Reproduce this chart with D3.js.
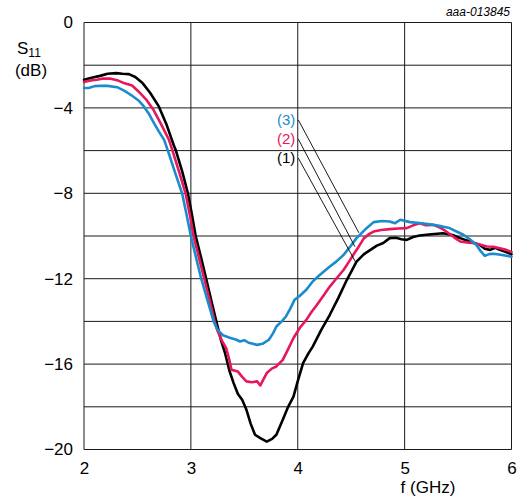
<!DOCTYPE html>
<html>
<head>
<meta charset="utf-8">
<script src="https://cdn.jsdelivr.net/npm/d3@7"></script>
<style>
  html, body { margin: 0; padding: 0; background: #fff; }
  svg { display: block; font-family: "Liberation Sans", Arial, sans-serif; }
</style>
</head>
<body>
<svg id="chart" width="519" height="502"></svg>
<script>
// ---- data ----
const xTicks = [2, 3, 4, 5, 6];
const yTicks = [0, -4, -8, -12, -16, -20];
const yGrid = [0, -2, -4, -6, -8, -10, -12, -14, -16, -18, -20];
const seriesNames = ["(1)", "(2)", "(3)"];
const seriesColors = ["#000000", "#e6175c", "#1a8bcc"];

const curve1 = [[2.00,-2.68],[2.08,-2.58],[2.15,-2.50],[2.22,-2.40],[2.30,-2.37],[2.36,-2.40],[2.42,-2.42],[2.48,-2.55],[2.55,-2.85],[2.62,-3.3],[2.70,-3.93],[2.77,-4.75],[2.84,-5.75],[2.86,-6.0],[2.92,-7.0],[2.972,-8.0],[3.01,-9.0],[3.045,-10.0],[3.095,-11.0],[3.143,-12.0],[3.19,-13.0],[3.238,-14.0],[3.28,-14.85],[3.32,-15.49],[3.36,-16.3],[3.40,-16.89],[3.44,-17.4],[3.48,-17.67],[3.52,-18.14],[3.56,-18.8],[3.60,-19.31],[3.65,-19.47],[3.71,-19.63],[3.76,-19.5],[3.80,-19.31],[3.86,-18.61],[3.91,-18.0],[3.96,-17.52],[4.00,-16.8],[4.05,-15.95],[4.10,-15.5],[4.14,-15.18],[4.22,-14.4],[4.30,-13.69],[4.38,-12.9],[4.46,-12.05],[4.55,-11.2],[4.62,-10.85],[4.68,-10.65],[4.74,-10.45],[4.80,-10.33],[4.86,-10.1],[4.92,-10.08],[4.97,-10.15],[5.02,-10.18],[5.08,-10.05],[5.14,-9.98],[5.25,-9.92],[5.36,-9.87],[5.45,-9.95],[5.52,-10.1],[5.61,-10.26],[5.70,-10.41],[5.75,-10.6],[5.80,-10.65],[5.85,-10.55],[5.89,-10.65],[5.95,-10.75],[6.00,-10.85]];

const curve2 = [[2.00,-2.79],[2.06,-2.72],[2.12,-2.68],[2.18,-2.62],[2.25,-2.63],[2.32,-2.72],[2.38,-2.85],[2.45,-2.95],[2.51,-3.23],[2.58,-3.6],[2.65,-4.09],[2.72,-4.75],[2.795,-5.5],[2.828,-6.0],[2.89,-7.0],[2.95,-8.0],[2.99,-9.0],[3.025,-10.0],[3.075,-11.0],[3.125,-12.0],[3.175,-13.0],[3.222,-14.0],[3.25,-14.45],[3.29,-14.9],[3.33,-15.25],[3.36,-15.8],[3.38,-16.27],[3.44,-16.35],[3.48,-16.6],[3.52,-16.81],[3.57,-16.85],[3.62,-16.81],[3.65,-17.0],[3.68,-16.7],[3.71,-16.42],[3.76,-16.2],[3.80,-16.11],[3.86,-15.8],[3.91,-15.3],[3.96,-14.78],[4.02,-14.3],[4.08,-13.93],[4.13,-13.55],[4.18,-13.22],[4.24,-12.8],[4.30,-12.37],[4.36,-12.0],[4.43,-11.58],[4.48,-11.2],[4.52,-10.88],[4.57,-10.5],[4.62,-10.1],[4.67,-9.9],[4.71,-9.79],[4.78,-9.72],[4.86,-9.68],[4.94,-9.65],[5.02,-9.63],[5.08,-9.5],[5.14,-9.4],[5.20,-9.5],[5.27,-9.48],[5.33,-9.6],[5.39,-9.79],[5.46,-10.05],[5.52,-10.26],[5.58,-10.3],[5.64,-10.33],[5.70,-10.4],[5.77,-10.49],[5.83,-10.5],[5.89,-10.57],[5.95,-10.65],[6.00,-10.75]];

const curve3 = [[2.00,-3.07],[2.05,-3.06],[2.10,-2.98],[2.16,-2.96],[2.22,-2.97],[2.31,-3.03],[2.38,-3.2],[2.45,-3.43],[2.51,-3.65],[2.56,-3.93],[2.61,-4.3],[2.655,-4.71],[2.70,-5.1],[2.75,-5.5],[2.785,-6.0],[2.85,-7.0],[2.918,-8.0],[2.96,-9.0],[3.00,-10.0],[3.048,-11.0],[3.097,-12.0],[3.155,-13.0],[3.213,-14.0],[3.25,-14.4],[3.30,-14.65],[3.37,-14.78],[3.42,-14.85],[3.46,-14.94],[3.50,-14.88],[3.54,-15.0],[3.58,-15.05],[3.62,-15.1],[3.67,-15.05],[3.73,-14.86],[3.77,-14.55],[3.80,-14.24],[3.85,-14.0],[3.89,-13.77],[3.93,-13.4],[3.97,-12.99],[4.02,-12.8],[4.08,-12.52],[4.14,-12.13],[4.20,-11.85],[4.30,-11.43],[4.36,-11.2],[4.43,-10.88],[4.49,-10.5],[4.55,-10.1],[4.63,-9.7],[4.71,-9.35],[4.79,-9.3],[4.86,-9.32],[4.91,-9.4],[4.96,-9.24],[5.05,-9.35],[5.16,-9.4],[5.27,-9.48],[5.35,-9.55],[5.42,-9.63],[5.49,-9.8],[5.55,-9.94],[5.61,-10.15],[5.67,-10.41],[5.71,-10.7],[5.75,-10.93],[5.79,-10.85],[5.83,-10.83],[5.90,-10.88],[6.00,-10.97]];

// leader lines: [start, end] in data coords, one per series
const leaderStarts = [[4.005,-6.35],[4.005,-5.46],[4.005,-4.56]];
const leaderEnds = [[4.54,-11.21],[4.535,-10.5],[4.572,-9.85]];

const figureId = "aaa-013845";

// ---- drawing ----
const svg = d3.select("#chart");
const x = d3.scaleLinear().domain([2, 6]).range([84, 511.5]);
const y = d3.scaleLinear().domain([0, -20]).range([22.5, 449.5]);

// grid
const g = svg.append("g");
g.selectAll("line.h").data(yGrid).join("line")
  .attr("x1", x(2)).attr("x2", x(6))
  .attr("y1", d => y(d)).attr("y2", d => y(d))
  .attr("stroke", "#1a1a1a").attr("stroke-width", 1);
g.selectAll("line.v").data(xTicks).join("line")
  .attr("y1", y(0)).attr("y2", y(-20))
  .attr("x1", d => x(d)).attr("x2", d => x(d))
  .attr("stroke", "#1a1a1a").attr("stroke-width", 1);

// axes (labels only)
const yAxis = d3.axisLeft(y).tickValues(yTicks).tickSize(0).tickPadding(11)
  .tickFormat(d => d3.format("d")(d));
const ya = svg.append("g").attr("transform", `translate(${x(2)},0)`).call(yAxis);
ya.select(".domain").remove();
ya.selectAll("text").attr("font-size", 17).attr("font-family", "Liberation Sans, Arial, sans-serif").attr("fill", "#000");

const xAxis = d3.axisBottom(x).tickValues(xTicks).tickSize(0).tickPadding(12)
  .tickFormat(d3.format("d"));
const xa = svg.append("g").attr("transform", `translate(0,${y(-20)})`).call(xAxis);
xa.select(".domain").remove();
xa.selectAll("text").attr("font-size", 17).attr("font-family", "Liberation Sans, Arial, sans-serif").attr("fill", "#000");

// curves
const line = d3.line().x(d => x(d[0])).y(d => y(d[1])).curve(d3.curveLinear);
const curves = [curve1, curve2, curve3];
[0, 1, 2].forEach(i => {
  svg.append("path").datum(curves[i])
    .attr("d", line)
    .attr("fill", "none")
    .attr("stroke", seriesColors[i])
    .attr("stroke-width", 2.6)
    .attr("stroke-linejoin", "round")
    .attr("stroke-linecap", "round");
});

// leader lines and labels
[0, 1, 2].forEach(i => {
  svg.append("line")
    .attr("x1", x(leaderStarts[i][0])).attr("y1", y(leaderStarts[i][1]))
    .attr("x2", x(leaderEnds[i][0])).attr("y2", y(leaderEnds[i][1]))
    .attr("stroke", "#000").attr("stroke-width", 0.9);
  svg.append("text")
    .attr("x", x(leaderStarts[i][0]) - 3)
    .attr("y", y(leaderStarts[i][1]))
    .attr("dy", "0.36em")
    .attr("text-anchor", "end")
    .attr("font-size", 15)
    .attr("fill", seriesColors[i])
    .text(seriesNames[i]);
});

// axis titles
const yt = svg.append("text").attr("x", 17).attr("y", 54).attr("font-size", 17).attr("fill", "#000");
yt.append("tspan").text("S");
yt.append("tspan").attr("font-size", 12).attr("dy", 3).text("11");
svg.append("text").attr("x", 31).attr("y", 76).attr("text-anchor", "middle")
  .attr("font-size", 17).attr("fill", "#000").text("(dB)");

svg.append("text").attr("x", 428).attr("y", 493).attr("text-anchor", "middle")
  .attr("font-size", 17).attr("fill", "#000").text("f (GHz)");

svg.append("text").attr("x", 510).attr("y", 16).attr("text-anchor", "end")
  .attr("font-size", 12).attr("font-style", "italic").attr("fill", "#000").text(figureId);
</script>
</body>
</html>
